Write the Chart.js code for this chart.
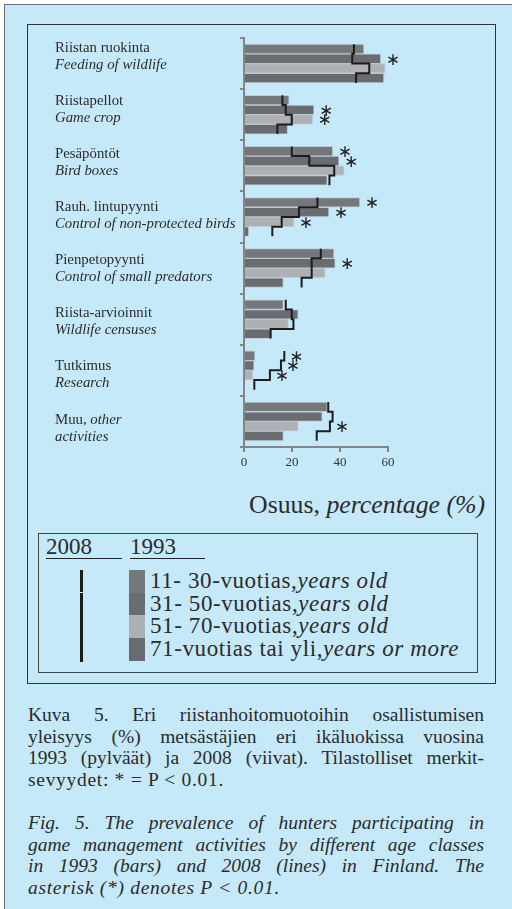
<!DOCTYPE html>
<html>
<head>
<meta charset="utf-8">
<script src="https://cdn.jsdelivr.net/npm/chart.js@4"></script>
<style>
  body { margin: 0; width: 512px; height: 909px; background: #fff; position: relative; overflow: hidden; font-family: "Liberation Serif", serif; color: #2b2b2b; }
  #panel { position: absolute; left: 4px; top: 4px; width: 530px; height: 930px; background: #c6e9f9; border: 1.5px solid #707070; }
  #frame { position: absolute; left: 27px; top: 24px; width: 467px; height: 658px; border: 1.5px solid #333; }
  #chartCanvas { position: absolute; left: 0; top: 0; }
  #axisTitle { position: absolute; left: 249px; top: 490px; font-size: 25.8px; white-space: nowrap; }
  #legendBox { position: absolute; left: 38px; top: 533px; width: 438px; height: 138px; border: 1.5px solid #444; }
  .hdr { position: absolute; top: 536px; font-size: 23px; height: 22px; line-height: 22px; border-bottom: 1.5px solid #222; }
  .swatch { position: absolute; left: 129px; width: 16px; }
  .lrow { position: absolute; left: 150px; font-size: 23px; line-height: 22px; letter-spacing: 0.6px; white-space: nowrap; }
  .cap { position: absolute; left: 28px; width: 456px; font-size: 19.5px; line-height: 21.7px; }
  .cap div { text-align: justify; text-align-last: justify; white-space: nowrap; }
  .cap div.last { text-align-last: left; letter-spacing: 0.7px; }
  i { font-style: italic; }
</style>
</head>
<body>
<div id="panel"></div>
<div id="frame"></div>
<canvas id="chartCanvas" width="512" height="480"></canvas>
<div id="axisTitle">Osuus, <i>percentage (%)</i></div>
<div id="legendBox"></div>
<div id="legendArea"></div>
<div class="cap" style="top:704px">
  <div>Kuva 5. Eri riistanhoitomuotoihin osallistumisen</div>
  <div>yleisyys (%) metsästäjien eri ikäluokissa vuosina</div>
  <div>1993 (pylväät) ja 2008 (viivat). Tilastolliset merkit-</div>
  <div class="last">sevyydet: * = P &lt; 0.01.</div>
</div>
<div class="cap" style="top:812px; font-style:italic">
  <div>Fig. 5. The prevalence of hunters participating in</div>
  <div>game management activities by different age classes</div>
  <div>in 1993 (bars) and 2008 (lines) in Finland. The</div>
  <div class="last">asterisk (*) denotes P &lt; 0.01.</div>
</div>
<script>
// activity groups (Finnish line, English line)
const groupsFi = ['Riistan ruokinta', 'Riistapellot', 'Pesäpöntöt', 'Rauh. lintupyynti', 'Pienpetopyynti', 'Riista-arvioinnit', 'Tutkimus', 'Muu,'];
const groupsEn = ['Feeding of wildlife', 'Game crop', 'Bird boxes', 'Control of non-protected birds', 'Control of small predators', 'Wildlife censuses', 'Research', 'activities'];
const groupsFiItalicTail = ['', '', '', '', '', '', '', ' other'];

// age classes
const agesFi = ['11- 30-vuotias,', '31- 50-vuotias,', '51- 70-vuotias,', '71-vuotias tai yli,'];
const agesEn = ['years old', 'years old', 'years old', 'years or more'];

// 1993 bars (%)
const bars11_30 = [50, 18.8, 37, 48.3, 37.5, 16.4, 4.6, 34.7];
const bars31_50 = [57, 29.2, 39.6, 35.4, 38, 22.6, 4.2, 32.6];
const bars51_70 = [58.8, 28.6, 41.7, 20.8, 33.8, 18.5, 3.6, 22.6];
const bars71 = [58.3, 18.2, 34.7, 2, 16.4, 11.1, 0, 16.4];

// 2008 lines (%)
const line11_30 = [45.8, 16, 19.9, 30.6, 32, 17.4, 16.8, 35.1];
const line31_50 = [45.1, 17.4, 27.2, 22.9, 28.2, 19.9, 15.4, 36.9];
const line51_70 = [52.2, 19.9, 37.6, 15.7, 28.2, 20.6, 10.8, 35.8];
const line71 = [46.7, 13.9, 35.6, 11.8, 24, 11.1, 4.3, 30.3];

// significant differences: [group, age class]
const significant = [[0, 1], [1, 1], [1, 2], [2, 0], [2, 1], [3, 0], [3, 1], [3, 2], [4, 1], [6, 0], [6, 1], [6, 2], [7, 2]];

const xTicks = [0, 20, 40, 60];

const barSeries = [bars11_30, bars31_50, bars51_70, bars71];
const lineSeries = [line11_30, line31_50, line51_70, line71];
const barColors = ['#76777b', '#6b6c70', '#afb0b3', '#6a6b6f'];
const catPct = 0.76;
const rowH = catPct / 4;
const rowTop = (gi, j) => gi - catPct / 2 + j * rowH;      // group index -> row position on y

const barSets = barSeries.map((vals, j) => ({
    type: 'bar',
    label: agesFi[j],
    data: vals.map((v, gi) => ({x: v, y: rowTop(gi, j) + rowH / 2})),
    backgroundColor: barColors[j],
    borderColor: 'rgba(175, 185, 195, 0.55)',
    borderWidth: 1,
    borderSkipped: 'start',
    grouped: false,
    categoryPercentage: 1,
    barPercentage: 1,
    order: 2
}));

// step line per group, one vertical piece per age class
const lineSets = groupsFi.map((g, gi) => {
    let pts = [];
    lineSeries.forEach((vals, j) => {
        pts.push({x: vals[gi], y: rowTop(gi, j)});
        pts.push({x: vals[gi], y: rowTop(gi, j) + rowH});
    });
    return {
        type: 'line',
        label: '2008',
        data: pts,
        borderColor: '#1c1c1c',
        borderWidth: 2,
        pointRadius: 0,
        fill: false,
        tension: 0,
        clip: false,
        borderJoinStyle: 'miter',
        order: 1
    };
});

const annotations = {
    id: 'annotations',
    afterDatasetsDraw(chart) {
        const {ctx, chartArea, scales: {x, y}} = chart;
        ctx.save();
        ctx.fillStyle = '#2b2b2b';
        ctx.textBaseline = 'middle';
        ctx.textAlign = 'left';
        groupsFi.forEach((g, gi) => {                      //two line labels left of the axis
            let y1 = chartArea.top + 10 + gi * 53.1;
            ctx.font = '14.8px "Liberation Serif"';
            ctx.fillText(g, 55, y1);
            if (groupsFiItalicTail[gi]) {
                let w = ctx.measureText(g).width;
                ctx.font = 'italic 14.8px "Liberation Serif"';
                ctx.fillText(groupsFiItalicTail[gi], 55 + w, y1);
            }
            ctx.font = 'italic 14.8px "Liberation Serif"';
            ctx.fillText(groupsEn[gi], 55, y1 + 17);
        });
        ctx.textAlign = 'center';
        ctx.font = '17px "DejaVu Sans"';
        ctx.fillStyle = '#222';
        significant.forEach(([gi, j]) => {                 //asterisks right of bar or line
            let v = Math.max(barSeries[j][gi], lineSeries[j][gi]);
            let yc = y.getPixelForValue(rowTop(gi, j) + rowH / 2);
            ctx.fillText('\u2217', x.getPixelForValue(v) + 12, yc + 1.5);
        });
        ctx.restore();
    }
};

new Chart(document.getElementById('chartCanvas'), {
    type: 'bar',
    data: {datasets: [...lineSets, ...barSets]},
    options: {
        indexAxis: 'y',
        responsive: false,
        animation: false,
        layout: {padding: {left: 0, right: 124, top: 38, bottom: 0}},
        plugins: {legend: {display: false}, tooltip: {enabled: false}},
        scales: {
            x: {
                type: 'linear', min: 0, max: 60, offset: false,
                afterBuildTicks: s => { s.ticks = xTicks.map(v => ({value: v})); },
                ticks: {font: {family: 'Liberation Serif', size: 13}, color: '#333', padding: 3},
                grid: {drawOnChartArea: false, offset: false, tickLength: 5, color: '#858585', lineWidth: 2},
                border: {color: '#858585', width: 2},
                afterFit: s => { s.height = 33; }
            },
            y: {
                type: 'linear', min: -0.5, max: groupsFi.length - 0.5, reverse: true, offset: false,
                afterBuildTicks: s => { s.ticks = groupsFi.map((g, gi) => ({value: gi - 0.5})).concat([{value: groupsFi.length - 0.5}]); },
                ticks: {display: false},
                grid: {drawOnChartArea: false, offset: false, tickLength: 4, color: '#858585', lineWidth: 2},
                border: {color: '#858585', width: 2},
                afterFit: s => { s.width = 244; }
            }
        }
    },
    plugins: [annotations]
});

// legend
const legendArea = document.getElementById('legendArea');
legendArea.innerHTML =
    '<div class="hdr" style="left:46px;width:76px">2008</div>' +
    '<div class="hdr" style="left:130px;width:75px">1993</div>' +
    '<div style="position:absolute;left:80px;top:570px;width:3px;height:22px;background:#1c1c1c"></div>' +
    '<div style="position:absolute;left:80px;top:593px;width:3px;height:69px;background:#1c1c1c"></div>';
agesFi.forEach((a, i) => {
    let top = 570 + i * 22.7;
    legendArea.innerHTML +=
        `<div class="swatch" style="top:${top}px;height:22.7px;background:${barColors[i]}"></div>` +
        `<div class="lrow" style="top:${top}px">${a}<i>${agesEn[i]}</i></div>`;
});
</script>
</body>
</html>
